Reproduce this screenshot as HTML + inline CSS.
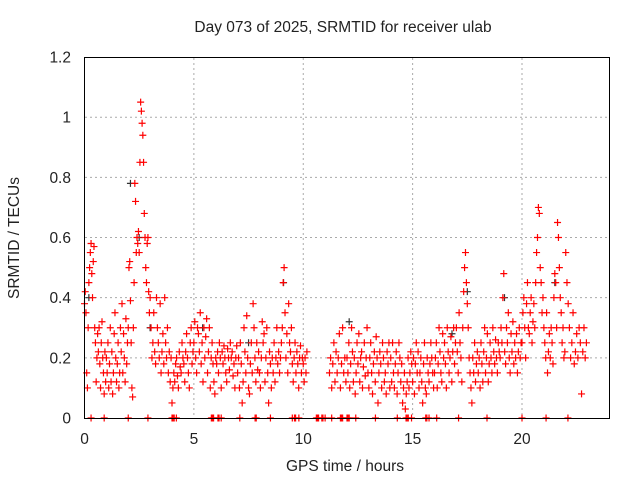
<!DOCTYPE html>
<html><head><meta charset="utf-8"><style>
body{margin:0;background:#fff}
svg{display:block;font-family:"Liberation Sans",sans-serif}
</style></head><body>
<svg id="c" width="640" height="480">
<rect width="640" height="480" fill="#fff"/>
<g id="grid"></g>
<g id="pts"></g>
<rect x="84.5" y="57.5" width="525" height="361" fill="none" stroke="#000" stroke-width="1"/>
<g id="ticks"></g>
<text x="343" y="32" text-anchor="middle" font-size="15.5" fill="#222">Day 073 of 2025, SRMTID for receiver ulab</text>
<text x="345" y="471" text-anchor="middle" font-size="15.5" fill="#222">GPS time / hours</text>
<text x="19" y="238" text-anchor="middle" font-size="15.5" fill="#222" transform="rotate(-90 19 238)">SRMTID / TECUs</text>
</svg>
<script>
const xTicks=[0,5,10,15,20];
const yTicks=[0,0.2,0.4,0.6,0.8,1,1.2];
const yTickLabels=["0","0.2","0.4","0.6","0.8","1","1.2"];
const hourValues=[
[0.38,0.42,0.35,0.15,0.1,0.3,0.45,0.5,0.55,0.58,0.48,0.4,0.52,0.57,0.3,0.25,0.12,0.2,0.28,0.22,0.3,0.18,0.1,0.25,0.32,0.2,0.15,0.08,0.22,0.12],
[0.2,0.15,0.25,0.1,0.18,0.3,0.12,0.22,0.08,0.15,0.28,0.35,0.2,0.12,0.18,0.25,0.1,0.15,0.3,0.22,0.38,0.15,0.28,0.2,0.12,0.33,0.18,0.25],
[0.3,0.5,0.52,0.39,0.25,0.1,0.07,0.3,0.45,0.78,0.72,0.55,0.6,0.58,0.62,0.55,0.85,1.05,1.02,0.98,0.94,0.85,0.68,0.6,0.5,0.45,0.58,0.6,0.42,0.35],
[0.4,0.3,0.2,0.25,0.35,0.22,0.18,0.4,0.3,0.25,0.2,0.38,0.15,0.22,0.28,0.18,0.4,0.25,0.2,0.3,0.15,0.22,0.12,0.2],
[0.05,0.1,0.15,0.12,0.18,0.2,0.14,0.1,0.22,0.17,0.15,0.25,0.2,0.18,0.12,0.22,0.28,0.2,0.15,0.1,0.25,0.3,0.18,0.22],
[0.25,0.32,0.2,0.15,0.3,0.28,0.22,0.35,0.18,0.25,0.12,0.3,0.2,0.27,0.33,0.15,0.22,0.3,0.1,0.2,0.25,0.18,0.12,0.08],
[0.2,0.18,0.22,0.15,0.25,0.2,0.1,0.22,0.18,0.24,0.2,0.15,0.12,0.23,0.2,0.16,0.25,0.2,0.22,0.14,0.18,0.1,0.2,0.24],
[0.15,0.2,0.1,0.25,0.18,0.05,0.12,0.3,0.22,0.15,0.34,0.2,0.1,0.08,0.18,0.25,0.15,0.38,0.3,0.2,0.12,0.25,0.16,0.22],
[0.15,0.1,0.2,0.32,0.25,0.28,0.12,0.2,0.3,0.15,0.05,0.22,0.18,0.1,0.2,0.15,0.25,0.12,0.2,0.3,0.18,0.22,0.15,0.2],
[0.25,0.3,0.45,0.5,0.35,0.2,0.28,0.15,0.38,0.25,0.22,0.3,0.18,0.12,0.2,0.25,0.15,0.22,0.18,0.1,0.2,0.24,0.15,0.2],
[0.18,0.12,0.2,0.15,0.22,null,null,null,null,null,null,null,null,null,null,null,null,null,null,null,null,null,null,null],
[null,null,null,null,0.15,0.2,0.1,0.18,0.25,0.12,0.22,0.15,0.2,0.28,0.1,0.18,0.3,0.15,0.2,0.12],
[0.2,0.15,0.25,0.1,0.18,0.3,0.22,0.12,0.2,0.08,0.15,0.25,0.18,0.28,0.12,0.2,0.22,0.1,0.17,0.25,0.14,0.2,0.3,0.15],
[0.1,0.2,0.25,0.15,0.08,0.18,0.22,0.12,0.27,0.2,0.05,0.15,0.22,0.18,0.1,0.25,0.2,0.12,0.15,0.08,0.22,0.18,0.25,0.1],
[0.2,0.12,0.25,0.15,0.1,0.18,0.22,0.08,0.15,0.25,0.2,0.12,0.18,0.05,0.1,0.15,0.03,0.08,0.12,0.2,0.1,0.15,0.22,0.18],
[0.12,0.2,0.08,0.18,0.25,0.15,0.22,0.1,0.15,0.2,0.12,0.05,0.18,0.25,0.1,0.08,0.2,0.15,0.12,0.18,0.25,0.2,0.15,0.1],
[0.15,0.2,0.25,0.1,0.18,0.3,0.22,0.15,0.12,0.28,0.2,0.25,0.18,0.1,0.3,0.22,0.15,0.2,0.27,0.12,0.22,0.3,0.18,0.25],
[0.3,0.22,0.15,0.35,0.25,0.2,0.12,0.3,0.42,0.5,0.55,0.45,0.38,0.3,0.2,0.15,0.1,0.05,0.2,0.15,0.25,0.12,0.18,0.22],
[0.15,0.2,0.1,0.25,0.18,0.12,0.22,0.3,0.15,0.2,0.28,0.12,0.18,0.25,0.2,0.15,0.3,0.22,0.18,0.26,0.2,0.15,0.25,0.22],
[0.2,0.3,0.25,0.4,0.48,0.22,0.18,0.3,0.25,0.35,0.2,0.15,0.28,0.22,0.32,0.18,0.25,0.2,0.28,0.15,0.22,0.3,0.2,0.25],
[0.25,0.35,0.4,0.3,0.2,0.38,0.45,0.3,0.28,0.35,0.4,0.25,0.32,0.38,0.3,0.45,0.55,0.6,0.7,0.68,0.5,0.45,0.35,0.4],
[0.3,0.25,0.2,0.35,0.15,0.22,0.28,0.2,0.3,0.25,0.18,0.4,0.48,0.45,0.3,0.65,0.6,0.5,0.4,0.35,0.25,0.3,0.2,0.22],
[0.55,0.45,0.38,0.3,0.2,0.25,0.35,0.18,0.22,0.28,0.2,0.3,0.25,0.08,0.22,0.3,0.2,0.25]
];
const zeroTimes=[0.3,0.9,2.0,2.9,4.0,4.05,4.1,4.2,5.8,5.85,5.9,6.1,6.15,6.25,7.1,7.8,7.85,8.5,9.5,9.6,9.65,9.8,10.6,10.65,10.7,10.85,10.9,11.0,11.3,11.7,11.75,11.8,12.0,12.05,12.1,12.4,13.3,14.3,14.7,14.75,14.8,14.95,15.6,15.65,15.75,16.1,17.1,18.4,20.0,21.1,22.1];
const grayTimes=[0.2,2.1,2.5,3.0,5.4,9.1,12.1,17.5,19.2,21.5,16.8,7.5];
const grayValues=[0.4,0.78,0.6,0.3,0.3,0.45,0.32,0.42,0.4,0.45,0.28,0.25];

const X=t=>84.5+t*525/24;
const Y=v=>418-v*300.8;
const NS="http://www.w3.org/2000/svg";
const grid=document.getElementById('grid'),pts=document.getElementById('pts'),tk=document.getElementById('ticks');
function mk(tag,attrs,parent){const e=document.createElementNS(NS,tag);for(const k in attrs)e.setAttribute(k,attrs[k]);parent.appendChild(e);return e;}
xTicks.forEach(t=>{
  const x=X(t);
  if(t>0){const g=mk('line',{x1:x,y1:58,x2:x,y2:418,stroke:'#aaa','stroke-dasharray':'2,3'},grid);
  
  }
  const l=mk('text',{x:x,y:444,'text-anchor':'middle','font-size':'15.5',fill:'#222'},tk);
  l.textContent=String(t);
  
  
});
yTicks.forEach((v,i)=>{
  const y=Y(v);
  if(v>0&&v<1.2){const g=mk('line',{x1:85,y1:y,x2:609,y2:y,stroke:'#aaa','stroke-dasharray':'2,3'},grid);
  
  }
  const l=mk('text',{x:71,y:y+5.5,'text-anchor':'end','font-size':'15.5',fill:'#222'},tk);
  l.textContent=yTickLabels[i];
  
  
});
function plus(t,v,col,name){
  const x=X(t),y=Y(v);
  const p=mk('path',{d:`M${x-3.5},${y}H${x+3.5}M${x},${y-3.5}V${y+3.5}`,stroke:col,'stroke-width':'1.2',fill:'none'},pts);
  
  
}
grayTimes.forEach((t,i)=>plus(t,grayValues[i],'#333','gray-point'));
hourValues.forEach((arr,h)=>{
  arr.forEach((v,i)=>{ if(v===null)return; plus(h+i/arr.length,v,'#f00','red-point'); });
});
zeroTimes.forEach(t=>plus(t,0,'#f00','zero-point'));
</script>
</body></html>
